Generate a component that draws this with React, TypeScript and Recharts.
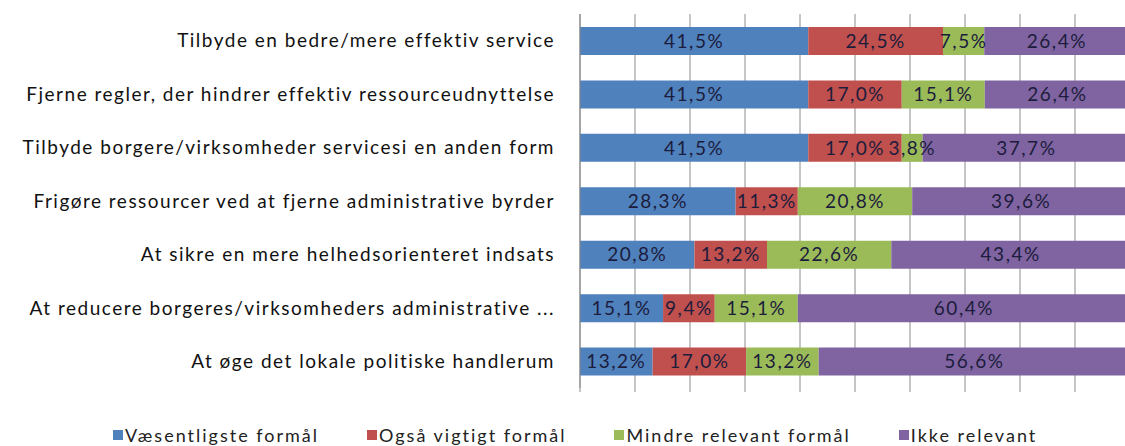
import { Bar, BarChart, CartesianGrid, XAxis, YAxis, Legend, LabelList } from "recharts";

const categories = [
  "Tilbyde en bedre/mere effektiv service",
  "Fjerne regler, der hindrer effektiv ressourceudnyttelse",
  "Tilbyde borgere/virksomheder servicesi en anden form",
  "Frigøre ressourcer ved at fjerne administrative byrder",
  "At sikre en mere helhedsorienteret indsats",
  "At reducere borgeres/virksomheders administrative ...",
  "At øge det lokale politiske handlerum",
];

const vaesentligste = [41.5, 41.5, 41.5, 28.3, 20.8, 15.1, 13.2];
const ogsaaVigtigt = [24.5, 17.0, 17.0, 11.3, 13.2, 9.4, 17.0];
const mindreRelevant = [7.5, 15.1, 3.8, 20.8, 22.6, 15.1, 13.2];
const ikkeRelevant = [26.4, 26.4, 37.7, 39.6, 43.4, 60.4, 56.6];

const xTicks = [0, 10, 20, 30, 40, 50, 60, 70, 80, 90, 100];

const series = [
  { key: "v", name: "Væsentligste formål", color: "#4F81BD", values: vaesentligste },
  { key: "o", name: "Også vigtigt formål", color: "#C0504D", values: ogsaaVigtigt },
  { key: "m", name: "Mindre relevant formål", color: "#9BBB59", values: mindreRelevant },
  { key: "i", name: "Ikke relevant", color: "#8064A2", values: ikkeRelevant },
];

const data = categories.map((name, i) => {
  const row: any = { name };
  series.forEach((s) => (row[s.key] = s.values[i]));
  return row;
});

const FONT = "Lato, 'Open Sans', sans-serif";

const fmt = (v: any) => String(Number(v).toFixed(1)).replace(".", ",") + "%";

// x axis has tick marks but no labels
const NoTick = () => <g />;

const LegendContent = () => (
  <div
    style={{
      display: "flex",
      gap: 48,
      height: 20,
      alignItems: "center",
      fontFamily: FONT,
      fontSize: 18,
      letterSpacing: 2,
      color: "#222",
      lineHeight: "20px",
    }}
  >
    {series.map((s) => (
      <div key={s.key} style={{ display: "flex", alignItems: "center", gap: 2 }}>
        <span style={{ width: 10, height: 10, background: s.color, display: "inline-block" }} />
        <span>{s.name}</span>
      </div>
    ))}
  </div>
);

export default function App() {
  return (
    <div style={{ position: "absolute", left: 0, top: 0, width: 1125, height: 446, overflow: "hidden", background: "#fff" }}>
      <BarChart
        width={1140}
        height={446}
        data={data}
        layout="vertical"
        margin={{ top: 14, right: 10, left: 0, bottom: 32 }}
        style={{ fontFamily: FONT }}
      >
        <CartesianGrid horizontal={false} vertical={true} stroke="#8c8c8c" />
        <XAxis
          type="number"
          domain={[0, 100]}
          ticks={xTicks}
          tick={<NoTick />}
          axisLine={false}
          tickLine={{ stroke: "#8c8c8c" }}
          tickSize={4}
          height={6}
        />
        <YAxis
          type="category"
          dataKey="name"
          width={580}
          tickLine={false}
          axisLine={{ stroke: "#868686" }}
          tickMargin={19}
          interval={0}
          tick={{ fontSize: 19, fill: "#111", fontFamily: FONT, letterSpacing: 1.5 }}
        />
        <Legend
          verticalAlign="bottom"
          content={<LegendContent />}
          wrapperStyle={{ top: 425, bottom: "auto", left: 113, width: 1000, height: 20 }}
        />
        {series.map((s) => (
          <Bar key={s.key} dataKey={s.key} name={s.name} stackId="a" fill={s.color} barSize={28} isAnimationActive={false}>
            <LabelList
              dataKey={s.key}
              position="center"
              formatter={fmt}
              fill="#1c1c3c"
              fontSize={19}
              fontFamily={FONT}
              style={{ letterSpacing: 1.5 }}
            />
          </Bar>
        ))}
      </BarChart>
    </div>
  );
}
